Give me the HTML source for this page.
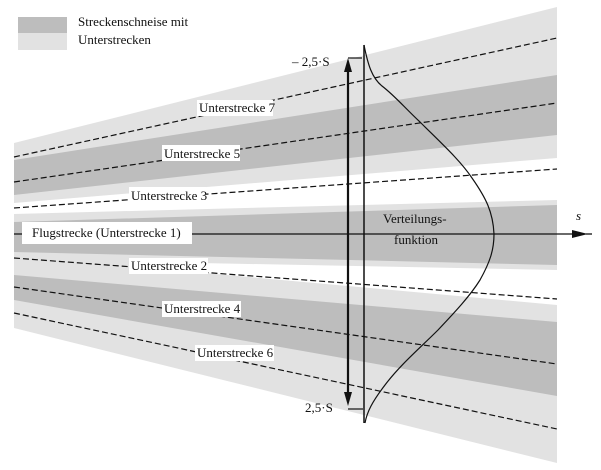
<!DOCTYPE html>
<html><head><meta charset="utf-8"><style>
html,body{margin:0;padding:0;background:#fff;overflow:hidden;}
svg{display:block;}
text{font-family:"Liberation Serif",serif;font-size:13px;fill:#111;}
</style></head><body>
<svg width="601" height="470" viewBox="0 0 601 470" xmlns="http://www.w3.org/2000/svg">
<rect x="18" y="17" width="49" height="16" fill="#bdbdbd"/>
<rect x="18" y="33" width="49" height="17" fill="#e2e2e2"/>
<text x="78" y="26">Streckenschneise mit</text>
<text x="78" y="44">Unterstrecken</text>
<polygon points="14,143 557,7 557,463 14,328" fill="#e2e2e2"/>
<polygon points="14,160 557,75 557,135 14,195" fill="#bdbdbd"/>
<polygon points="14,203 557,158 557,200 14,214" fill="#fff"/>
<polygon points="14,222 557,205 557,265 14,252" fill="#bdbdbd"/>
<polygon points="150,262 557,270 557,305 150,268" fill="#fff"/>
<polygon points="14,275 557,322 557,396 14,300" fill="#bdbdbd"/>
<g stroke="#111" stroke-width="1.2" stroke-dasharray="6,3" fill="none">
<line x1="14" y1="157" x2="557" y2="38"/>
<line x1="14" y1="182" x2="557" y2="103"/>
<line x1="14" y1="208" x2="557" y2="169"/>
<line x1="14" y1="258" x2="557" y2="299"/>
<line x1="14" y1="287" x2="557" y2="364"/>
<line x1="14" y1="313" x2="557" y2="429"/>
</g>
<line x1="14" y1="234" x2="582" y2="234" stroke="#111" stroke-width="1.3"/>
<polygon points="572,230 588,234 572,238" fill="#111"/>
<line x1="586" y1="234" x2="592" y2="234" stroke="#111" stroke-width="1.3"/>
<text x="576" y="220" font-style="italic">s</text>
<rect x="197" y="100" width="76" height="16" fill="#fff"/><text x="199" y="112">Unterstrecke 7</text>
<rect x="162" y="145" width="78" height="16" fill="#fff"/><text x="164" y="158">Unterstrecke 5</text>
<rect x="129" y="187" width="77" height="16" fill="#fff"/><text x="131" y="200">Unterstrecke 3</text>
<rect x="22" y="222" width="170" height="22" fill="#fff"/><text x="32" y="237">Flugstrecke (Unterstrecke 1)</text>
<rect x="129" y="258" width="79" height="16" fill="#fff"/><text x="131" y="270">Unterstrecke 2</text>
<rect x="162" y="301" width="79" height="16" fill="#fff"/><text x="164" y="313">Unterstrecke 4</text>
<rect x="195" y="345" width="79" height="16" fill="#fff"/><text x="197" y="357">Unterstrecke 6</text>
<text x="383" y="223">Verteilungs-</text>
<text x="394" y="244">funktion</text>
<path d="M364,45 C368,65 372,78 382,86 C395,96 405,108 420,122 C440,142 460,160 472,178 C486,198 493,212 494,234 C494,250 490,262 480,280 C470,296 455,312 438,330 C420,348 400,365 385,385 C372,402 367,412 365,423" fill="none" stroke="#111" stroke-width="1.2"/>
<line x1="364" y1="45" x2="364" y2="423" stroke="#111" stroke-width="1.5"/>
<line x1="348" y1="70" x2="348" y2="394" stroke="#111" stroke-width="2.2"/>
<polygon points="344,72 348,58 352,72" fill="#111"/>
<polygon points="344,392 348,406 352,392" fill="#111"/>
<line x1="348" y1="58" x2="362" y2="58" stroke="#111" stroke-width="1.2"/>
<line x1="348" y1="409" x2="363" y2="409" stroke="#111" stroke-width="1.2"/>
<text x="292" y="66">– 2,5·S</text>
<text x="305" y="412">2,5·S</text>
</svg>
</body></html>
